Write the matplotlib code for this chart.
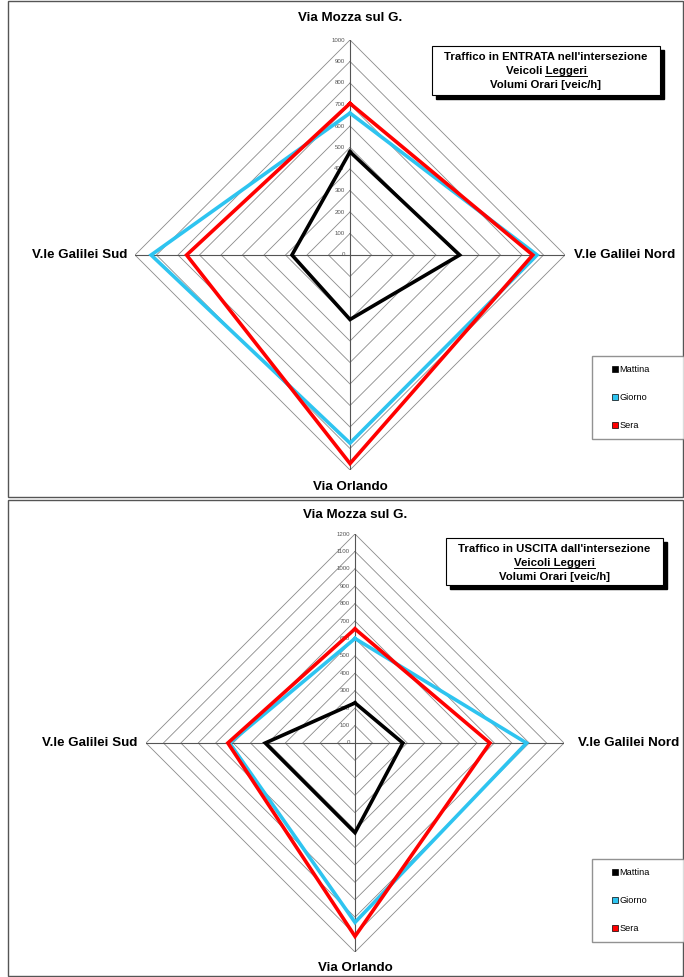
########################################################################
# Radar (diamond) charts: light vehicles traffic at the intersection
########################################################################

import numpy as np
import matplotlib
matplotlib.use("Agg")
import matplotlib.pyplot as plt
from matplotlib.patches import Rectangle
from matplotlib.lines import Line2D

### Input ##############################################################
#Spoke names, clockwise starting from the top
Directions=['Via Mozza sul G.','V.le Galilei Nord','Via Orlando','V.le Galilei Sud']
Periods=['Mattina','Giorno','Sera']

#Hourly volumes [veic/h], traffic entering the intersection
In_Mattina=[480,510,300,270]
In_Giorno=[660,870,875,925]
In_Sera=[705,850,970,760]

#Hourly volumes [veic/h], traffic leaving the intersection
Out_Mattina=[230,275,515,515]
Out_Giorno=[600,985,1030,720]
Out_Sera=[655,775,1110,730]

#Radial scales
InTicks=list(range(0,1001,100))
OutTicks=list(range(0,1201,100))

InTitle=['Traffico in ENTRATA nell\'intersezione','Veicoli Leggeri','Volumi Orari [veic/h]']
OutTitle=['Traffico in USCITA dall\'intersezione','Veicoli Leggeri','Volumi Orari [veic/h]']
### End Input ##########################################################

W,H=684,977
Colors=['black','#2EC4F0','#FF0000']
Angles=np.deg2rad([90,0,270,180])
plt.rcParams['font.family']=['Liberation Sans','DejaVu Sans']
LabSize=9.6
TitSize=8.2

fig=plt.figure(figsize=(W/100,H/100),dpi=100)

def fx(px): return px/W
def fy(py): return 1-py/H

def _xy(vals):
	v=np.asarray(vals,dtype=float)
	x=v*np.cos(Angles); y=v*np.sin(Angles)
	return np.append(x,x[0]),np.append(y,y[0])

#-----------------------------------------------------------------------
def _Radar(cx,cy,R,ticks,series,title,tbox,under,leg,lab):
	#axes box equal to the outer diamond bounding box (pixels)
	ax=fig.add_axes([fx(cx-R),fy(cy+R),2*R/W,2*R/H])
	m=ticks[-1]
	ax.set_xlim(-m,m); ax.set_ylim(-m,m)
	ax.axis('off')
	#grid diamonds
	for t in ticks[1:]:
		x,y=_xy([t]*4)
		ax.plot(x,y,color='#8a8a8a',lw=0.6,zorder=1)
	#spokes
	for a in Angles:
		ax.plot([0,m*np.cos(a)],[0,m*np.sin(a)],color='#555555',lw=0.8,zorder=1)
	#tick labels along the vertical spoke
	for t in ticks:
		ax.text(-m*0.025,t,str(t),ha='right',va='center',fontsize=4.4,color='#555555')
	#series
	for vals,c in zip(series,Colors):
		x,y=_xy(vals)
		ax.plot(x,y,color=c,lw=2.6,zorder=3,solid_joinstyle='miter')
	#spoke names
	fig.text(fx(cx),fy(lab[0]),Directions[0],ha='center',va='center',fontsize=LabSize,fontweight='bold')
	fig.text(fx(lab[1]),fy(cy),Directions[1],ha='left',va='center',fontsize=LabSize,fontweight='bold')
	fig.text(fx(cx),fy(lab[2]),Directions[2],ha='center',va='center',fontsize=LabSize,fontweight='bold')
	fig.text(fx(lab[3]),fy(cy),Directions[3],ha='right',va='center',fontsize=LabSize,fontweight='bold')
	#title box with shadow
	x0,y0,x1,y1=tbox
	fig.patches.append(Rectangle((fx(x0+4),fy(y1+4)),(x1-x0)/W,(y1-y0)/H,transform=fig.transFigure,
		facecolor='black',edgecolor='black',zorder=5))
	fig.patches.append(Rectangle((fx(x0),fy(y1)),(x1-x0)/W,(y1-y0)/H,transform=fig.transFigure,
		facecolor='white',edgecolor='black',lw=0.8,zorder=6))
	xm=(x0+x1)/2
	for i,s in enumerate(title):
		ty=y0+11.5+i*13.5
		tt=fig.text(fx(xm),fy(ty),s,ha='center',va='center',fontsize=TitSize,fontweight='bold',zorder=7)
		if i==1:
			fig.canvas.draw()
			r=fig.canvas.get_renderer()
			bb=tt.get_window_extent(r)
			tmp=fig.text(0,0,under,fontsize=TitSize,fontweight='bold')
			wu=tmp.get_window_extent(r).width
			tmp.remove()
			yl=bb.y0-0.3
			fig.add_artist(Line2D([(bb.x1-wu)/W,bb.x1/W],[yl/H,yl/H],transform=fig.transFigure,
				color='black',lw=0.7,zorder=7))
	#legend
	hs=[Line2D([],[],ls='none',marker='s',markersize=5,markerfacecolor=c,markeredgecolor='black',
		markeredgewidth=0.5) for c in Colors]
	fig.legend(hs,Periods,loc='upper left',bbox_to_anchor=(fx(leg[0]),fy(leg[1]),(leg[2]-leg[0])/W,0.001),
		mode='expand',fontsize=6.6,frameon=True,fancybox=False,edgecolor='#777777',handlelength=3.0,
		handletextpad=-1.0,labelspacing=2.05,borderpad=1.0,borderaxespad=0)

#-----------------------------------------------------------------------
#Panel frames
fig.patches.append(Rectangle((fx(8),fy(497)),(683-8)/W,(497-1)/H,transform=fig.transFigure,
	fill=False,edgecolor='#555555',lw=1.0))
fig.patches.append(Rectangle((fx(8),fy(976)),(683-8)/W,(976-500)/H,transform=fig.transFigure,
	fill=False,edgecolor='#555555',lw=1.0))

_Radar(350,255,215,InTicks,[In_Mattina,In_Giorno,In_Sera],InTitle,(432,46,660,95),'Leggeri',
	(592,357,690),(18,574,487,127))
_Radar(355,743,209,OutTicks,[Out_Mattina,Out_Giorno,Out_Sera],OutTitle,(446,538,663,585),'Veicoli Leggeri',
	(592,860,690),(515,578,968,137))

#-----------------------------------------------------------------------
plt.savefig('out.png',dpi=100)
